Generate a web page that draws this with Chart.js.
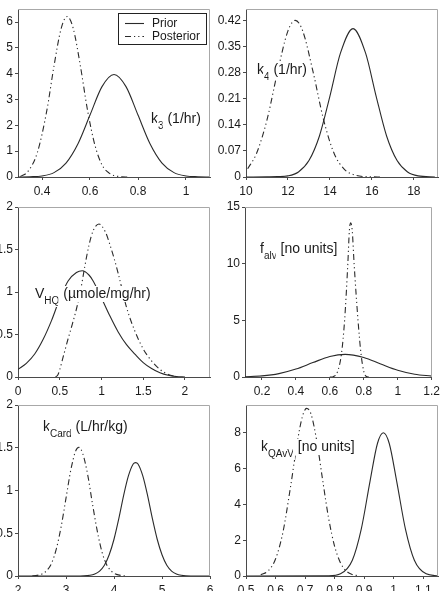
<!DOCTYPE html>
<html><head><meta charset="utf-8">
<script src="https://cdn.jsdelivr.net/npm/chart.js@4.4.1/dist/chart.umd.min.js"></script>
<style>
html,body{margin:0;padding:0;background:#fff;width:444px;height:591px;overflow:hidden;}
canvas{position:absolute;}
</style></head><body>
<canvas id="c1" width="222" height="195" style="left:0;top:0"></canvas>
<canvas id="c2" width="232" height="195" style="left:212px;top:0"></canvas>
<canvas id="c3" width="222" height="200" style="left:0;top:195px"></canvas>
<canvas id="c4" width="232" height="200" style="left:212px;top:195px"></canvas>
<canvas id="c5" width="222" height="201" style="left:0;top:390px"></canvas>
<canvas id="c6" width="232" height="201" style="left:212px;top:390px"></canvas>
<script>
// ---------- data ----------
const seriesNames = ['Prior', 'Posterior'];

// k3 (1/hr)
const k3PriorX = [0.30,0.35,0.40,0.45,0.50,0.55,0.60,0.65,0.70,0.75,0.80,0.85,0.90,0.95,1.00,1.05,1.10];
const k3PriorY = [0.00,0.01,0.04,0.17,0.54,1.29,2.40,3.50,3.97,3.50,2.40,1.29,0.54,0.17,0.04,0.01,0.00];
const k3PostX  = [0.31,0.34,0.38,0.42,0.45,0.48,0.505,0.53,0.56,0.59,0.62,0.65,0.68,0.72,0.76];
const k3PostY  = [0.02,0.20,0.93,2.57,4.30,5.76,6.22,5.76,4.30,2.57,1.25,0.47,0.15,0.02,0.00];
const k3XTicks = [0.4,0.6,0.8,1];
const k3YTicks = [0,1,2,3,4,5,6];

// k4 (1/hr)
const k4PriorX = [10,11,11.5,12,12.5,13,13.5,14,14.5,15.1,15.7,16.2,16.7,17.2,17.7,18.2,19];
const k4PriorY = [0,0.0005,0.001,0.003,0.0135,0.044,0.11,0.217,0.332,0.398,0.332,0.217,0.11,0.044,0.0135,0.003,0];
const k4PostX  = [10.08,10.5,11,11.5,12,12.35,12.7,13.2,13.7,14.2,14.7,15.2,15.7,16.5];
const k4PostY  = [0.022,0.063,0.153,0.281,0.392,0.42,0.392,0.281,0.153,0.063,0.020,0.005,0.001,0];
const k4XTicks = [10,12,14,16,18];
const k4YTicks = [0,0.07,0.14,0.21,0.28,0.35,0.42];

// V_HQ (umole/mg/hr)
const vhqPriorX = [0,0.1,0.2,0.3,0.4,0.5,0.6,0.7,0.77,0.85,0.9,1.0,1.1,1.2,1.3,1.4,1.5,1.6,1.7,1.8,1.9,2.0];
const vhqPriorY = [0.09,0.16,0.27,0.44,0.66,0.92,1.13,1.23,1.25,1.20,1.13,0.93,0.72,0.53,0.38,0.27,0.17,0.10,0.05,0.02,0.005,0];
const vhqPostX  = [0.45,0.48,0.55,0.6,0.65,0.7,0.75,0.8,0.85,0.9,0.97,1.05,1.1,1.15,1.2,1.3,1.4,1.5,1.6,1.7,1.8,1.9];
const vhqPostY  = [0,0.03,0.27,0.45,0.62,0.80,1.02,1.30,1.55,1.72,1.80,1.70,1.56,1.40,1.22,0.82,0.54,0.33,0.19,0.09,0.03,0.005];
const vhqXTicks = [0,0.5,1,1.5,2];
const vhqYTicks = [0,0.5,1,1.5,2];

// f_alv [no units]
const falvPriorX = [0.1,0.2,0.3,0.4,0.5,0.6,0.69,0.8,0.9,1.0,1.1,1.2];
const falvPriorY = [0.026,0.10,0.30,0.70,1.27,1.81,2.00,1.72,1.15,0.60,0.245,0.077];
const falvPostX  = [0.60,0.62,0.645,0.668,0.687,0.706,0.715,0.723,0.732,0.743,0.766,0.784,0.80,0.815,0.83];
const falvPostY  = [0,0.03,0.45,2.0,5.0,10.0,12.9,13.6,12.9,10.0,5.0,2.0,0.5,0.05,0];
const falvXTicks = [0.2,0.4,0.6,0.8,1,1.2];
const falvYTicks = [0,5,10,15];

// k_Card (L/hr/kg)
const kcardPriorX = [2,3.2,3.5,3.6,3.7,3.8,3.9,4.0,4.1,4.2,4.3,4.4,4.45,4.5,4.6,4.7,4.8,4.9,5.0,5.1,5.2,5.3,5.4,5.6,6];
const kcardPriorY = [0,0,0.009,0.024,0.058,0.126,0.248,0.43,0.67,0.94,1.17,1.31,1.326,1.31,1.17,0.94,0.67,0.43,0.248,0.126,0.058,0.024,0.009,0,0];
const kcardPostX  = [2.3,2.5,2.6,2.7,2.8,2.9,3.0,3.1,3.2,3.27,3.35,3.45,3.55,3.65,3.75,3.85,3.95,4.05,4.25];
const kcardPostY  = [0.002,0.023,0.065,0.15,0.32,0.58,0.91,1.24,1.46,1.505,1.43,1.19,0.85,0.53,0.28,0.13,0.054,0.019,0];
const kcardXTicks = [2,3,4,5,6];
const kcardYTicks = [0,0.5,1,1.5,2];

// k_QAvV [no units]
const kqPriorX = [0.5,0.78,0.82,0.86,0.89,0.92,0.945,0.965,0.985,1.01,1.04,1.07,1.11,1.15];
const kqPriorY = [0,0.01,0.12,0.88,2.6,5.3,7.4,8.0,7.4,5.3,2.6,0.88,0.12,0.01];
const kqPostX  = [0.55,0.575,0.60,0.625,0.65,0.675,0.69,0.705,0.72,0.74,0.76,0.78,0.80,0.82,0.84,0.86,0.88];
const kqPostY  = [0.07,0.29,0.95,2.44,4.9,7.6,8.85,9.36,9.05,7.5,5.3,3.2,1.66,0.73,0.27,0.08,0.02];
const kqXTicks = [0.5,0.6,0.7,0.8,0.9,1,1.1];
const kqYTicks = [0,2,4,6,8];

// ---------- styling ----------
const FONT = '"Liberation Sans", Arial, Helvetica, sans-serif';
const LINE = '#2a2a2a';
const AXIS = '#4a4a4a';
const FRAME = '#a8a8a8';
const TEXT = '#1a1a1a';
const DASH = [6,3,1.2,3,1.2,3];

const zip = (xs, ys) => xs.map((x, i) => ({x, y: ys[i]}));

const framePlugin = {
  id: 'frame',
  afterDraw(chart) {
    const {ctx, chartArea: a} = chart;
    ctx.save();
    ctx.strokeStyle = FRAME; ctx.lineWidth = 1;
    const t = Math.round(a.top) + 0.5, r = Math.round(a.right) - 0.5;
    ctx.beginPath();
    ctx.moveTo(a.left, t); ctx.lineTo(r, t); ctx.lineTo(r, a.bottom);
    ctx.stroke();
    ctx.restore();
  }
};

function makeLabelPlugin(spec) {
  return {
    id: 'panelLabel',
    afterDatasetsDraw(chart) {
      const {ctx, chartArea: a} = chart;
      let x = a.left + spec.dx;
      const base = a.top + spec.dy;
      ctx.save();
      spec.parts.forEach(p => {
        ctx.font = (p.sub ? 10 : 14) + 'px ' + FONT;
        const m = ctx.measureText(p.text);
        const y = base + (p.sub ? 6 : 0);
        ctx.fillStyle = '#fff';
        ctx.fillRect(x - 1, y - m.actualBoundingBoxAscent - 1, m.width + 2, m.actualBoundingBoxAscent + m.actualBoundingBoxDescent + 2);
        ctx.fillStyle = TEXT; ctx.textBaseline = 'alphabetic'; ctx.textAlign = 'left';
        ctx.fillText(p.text, x, y);
        x += m.width;
      });
      ctx.restore();
    }
  };
}

function makeLegendPlugin(spec) {
  return {
    id: 'boxLegend',
    afterDatasetsDraw(chart) {
      const {ctx, chartArea: a} = chart;
      const x0 = Math.round(a.left + spec.dx), y0 = Math.round(a.top + spec.dy);
      ctx.save();
      ctx.fillStyle = '#fff'; ctx.fillRect(x0, y0, spec.w, spec.h);
      ctx.strokeStyle = '#222'; ctx.lineWidth = 1; ctx.strokeRect(x0 + 0.5, y0 + 0.5, spec.w, spec.h);
      chart.data.datasets.forEach((ds, i) => {
        const cy = y0 + spec.row0 + i * spec.rowH;
        ctx.strokeStyle = ds.borderColor; ctx.lineWidth = ds.borderWidth;
        ctx.setLineDash(ds.borderDash || []);
        ctx.beginPath(); ctx.moveTo(x0 + spec.lx0, cy + 0.5); ctx.lineTo(x0 + spec.lx1, cy + 0.5); ctx.stroke();
        ctx.setLineDash([]);
        ctx.fillStyle = TEXT; ctx.font = '12px ' + FONT; ctx.textBaseline = 'middle'; ctx.textAlign = 'left';
        ctx.fillText(ds.label, x0 + spec.tx, cy + 1);
      });
      ctx.restore();
    }
  };
}

function axis(min, max, ticks, fit, isX) {
  return {
    type: 'linear', min, max,
    afterBuildTicks: s => { s.ticks = ticks.map(v => ({value: v})); },
    afterFit: s => { if (isX) s.height = fit; else s.width = fit; },
    grid: {display: true, drawOnChartArea: false, drawTicks: true, tickLength: 3, tickColor: AXIS, tickWidth: 1},
    border: {display: true, color: AXIS, width: 1},
    ticks: {font: {family: FONT, size: 12}, color: TEXT, padding: isX ? 4 : 2, maxRotation: 0, minRotation: 0, autoSkip: false,
            callback: v => String(v)}
  };
}

function panel(id, p) {
  const plugins = [framePlugin, makeLabelPlugin(p.label)];
  if (p.legend) plugins.push(makeLegendPlugin(p.legend));
  return new Chart(document.getElementById(id), {
    type: 'line',
    data: {datasets: [
      {label: seriesNames[0], data: zip(p.priorX, p.priorY), borderColor: LINE, borderWidth: 1.1, pointRadius: 0,
       cubicInterpolationMode: 'monotone', fill: false},
      {label: seriesNames[1], data: zip(p.postX, p.postY), borderColor: LINE, borderWidth: 1.1, borderDash: DASH,
       pointRadius: 0, cubicInterpolationMode: 'monotone', fill: false}
    ]},
    options: {
      responsive: false, animation: false, devicePixelRatio: 1,
      layout: {padding: p.pad, autoPadding: false},
      plugins: {legend: {display: false}, tooltip: {enabled: false}},
      scales: {
        x: axis(p.xr[0], p.xr[1], p.xt, p.xh, true),
        y: axis(p.yr[0], p.yr[1], p.yt, p.yw, false)
      }
    },
    plugins
  });
}

panel('c1', {priorX: k3PriorX, priorY: k3PriorY, postX: k3PostX, postY: k3PostY,
  xr: [0.3, 1.1], yr: [0, 6.5], xt: k3XTicks, yt: k3YTicks,
  pad: {left: 0, right: 12, top: 6, bottom: 0}, yw: 18, xh: 18,
  label: {dx: 133, dy: 114, parts: [{text: 'k'}, {text: '3', sub: true}, {text: ' (1/hr)'}]},
  legend: {dx: 100, dy: 4, w: 88, h: 31, row0: 10, rowH: 13, lx0: 7, lx1: 26, tx: 34}});

panel('c2', {priorX: k4PriorX, priorY: k4PriorY, postX: k4PostX, postY: k4PostY,
  xr: [10, 19.15], yr: [0, 0.45], xt: k4XTicks, yt: k4YTicks,
  pad: {left: 0, right: 6, top: 6, bottom: 0}, yw: 34, xh: 18,
  label: {dx: 11, dy: 65, parts: [{text: 'k'}, {text: '4', sub: true}, {text: ' (1/hr)'}]}});

panel('c3', {priorX: vhqPriorX, priorY: vhqPriorY, postX: vhqPostX, postY: vhqPostY,
  xr: [0, 2.3], yr: [0, 2], xt: vhqXTicks, yt: vhqYTicks,
  pad: {left: 0, right: 12, top: 12, bottom: 0}, yw: 18, xh: 18,
  label: {dx: 17, dy: 91, parts: [{text: 'V'}, {text: 'HQ', sub: true}, {text: ' (\u00b5mole/mg/hr)'}]}});

panel('c4', {priorX: falvPriorX, priorY: falvPriorY, postX: falvPostX, postY: falvPostY,
  xr: [0.1, 1.2], yr: [0, 15], xt: falvXTicks, yt: falvYTicks,
  pad: {left: 0, right: 6, top: 12, bottom: 0}, yw: 33, xh: 18,
  label: {dx: 15, dy: 46, parts: [{text: 'f'}, {text: 'alv', sub: true}, {text: ' [no units]'}]}});

panel('c5', {priorX: kcardPriorX, priorY: kcardPriorY, postX: kcardPostX, postY: kcardPostY,
  xr: [2, 6], yr: [0, 2], xt: kcardXTicks, yt: kcardYTicks,
  pad: {left: 0, right: 12, top: 15, bottom: 0}, yw: 18, xh: 15,
  label: {dx: 25, dy: 26, parts: [{text: 'k'}, {text: 'Card', sub: true}, {text: ' (L/hr/kg)'}]}});

panel('c6', {priorX: kqPriorX, priorY: kqPriorY, postX: kqPostX, postY: kqPostY,
  xr: [0.5, 1.15], yr: [0, 9.55], xt: kqXTicks, yt: kqYTicks,
  pad: {left: 0, right: 6, top: 15, bottom: 0}, yw: 34, xh: 15,
  label: {dx: 15, dy: 46, parts: [{text: 'k'}, {text: 'QAvV', sub: true}, {text: ' [no units]'}]}});
</script>
</body></html>
